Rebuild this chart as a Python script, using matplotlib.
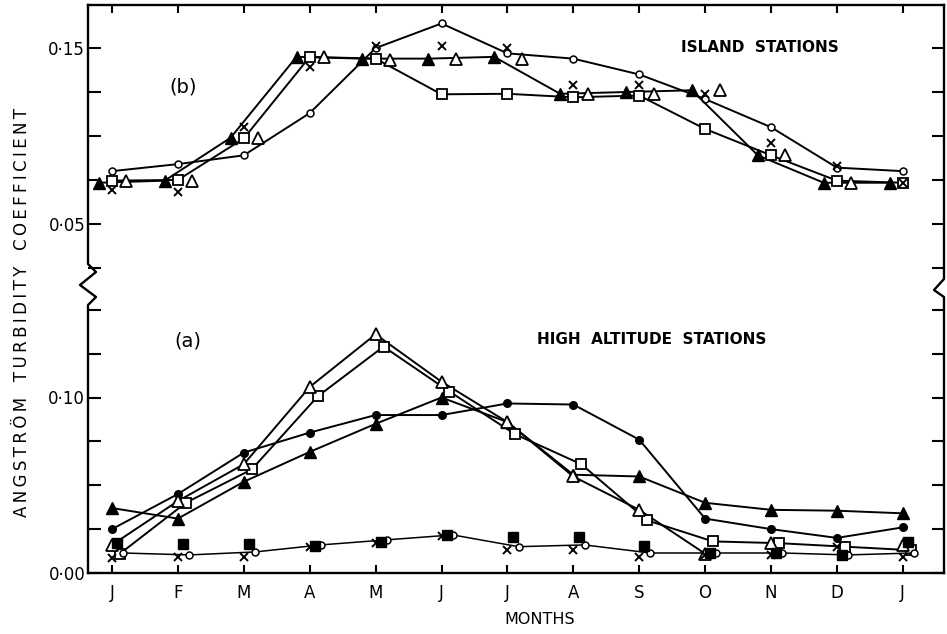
import numpy as np
import matplotlib
matplotlib.use("Agg")
import matplotlib.pyplot as plt
from matplotlib.lines import Line2D

months = ['J', 'F', 'M', 'A', 'M', 'J', 'J', 'A', 'S', 'O', 'N', 'D', 'J']
nan = np.nan

# (b) island stations
b_circle = [0.080, 0.084, 0.089, 0.113, 0.150, 0.164, 0.147, 0.144, 0.135, 0.121, 0.105, 0.082, 0.080]
b_tri_fill = [0.0734, 0.0746, 0.099, 0.145, 0.144, 0.144, 0.145, 0.124, 0.125, 0.126, 0.089, 0.0734, 0.0734]
b_square = [0.0746, 0.075, 0.0986, 0.145, 0.144, 0.1237, 0.124, 0.122, 0.123, 0.104, 0.089, 0.0746, 0.0734]
b_tri_open = [0.0746, 0.0746, 0.099, 0.145, 0.143, 0.144, 0.144, 0.124, 0.124, 0.126, 0.089, 0.0734, nan]
b_cross = [0.069, 0.068, 0.105, 0.139, 0.151, 0.151, 0.150, 0.129, 0.129, 0.124, 0.096, 0.083, 0.0734]

# (a) high altitude stations
a_dot = [0.025, 0.045, 0.0686, 0.080, 0.090, 0.090, 0.0966, 0.096, 0.076, 0.031, 0.025, 0.020, 0.026]
a_tri_fill = [0.037, 0.031, 0.052, 0.069, 0.085, 0.100, 0.086, 0.056, 0.055, 0.040, 0.036, 0.0355, 0.034]
a_tri_open = [0.016, 0.041, 0.062, 0.106, 0.136, 0.109, 0.086, 0.055, 0.036, 0.011, 0.017, nan, 0.016]
a_square = [0.011, 0.040, 0.059, 0.1006, 0.129, 0.1034, 0.079, 0.062, 0.030, 0.018, 0.017, 0.015, 0.013]
a_sq_fill = [0.017, 0.0166, 0.0166, 0.0154, 0.0177, 0.0217, 0.0206, 0.0206, 0.0154, 0.0114, 0.0114, 0.0103, 0.0177]
a_cross = [0.0086, 0.0091, 0.0091, 0.0150, 0.0172, 0.0210, 0.013, 0.013, 0.0091, 0.0103, 0.0103, 0.015, 0.0091]
a_circle = [0.0114, 0.0103, 0.012, 0.016, 0.0189, 0.0217, 0.015, 0.016, 0.0114, 0.0114, 0.0114, 0.0103, 0.0114]

x = np.arange(len(months))

W, H = 947, 634
L, R, T, B, BRK = 88, 944, 5, 573, 285
fig = plt.figure(figsize=(W / 100, H / 100), dpi=100)
ax_b = fig.add_axes([L / W, 1 - BRK / H, (R - L) / W, (BRK - T) / H])
ax_a = fig.add_axes([L / W, 1 - B / H, (R - L) / W, (B - BRK) / H], sharex=ax_b)

lw = 1.4
open_tri = dict(marker='^', ms=8.5, mfc='white', mec='black', mew=1.3)
fill_tri = dict(marker='^', ms=8.5, mfc='black', mec='black')
open_sq = dict(marker='s', ms=6.5, mfc='white', mec='black', mew=1.3)
fill_sq = dict(marker='s', ms=6.5, mfc='black', mec='black')
open_c = dict(marker='o', ms=5, mfc='white', mec='black', mew=1.1)
fill_c = dict(marker='o', ms=5.5, mfc='black', mec='black')
cross = dict(marker='x', ms=6, mec='black', mew=1.4)

# panel (b)
ax = ax_b
ax.plot(x, b_circle, color='black', lw=lw, zorder=2, **open_c)
ax.plot(x - 0.2, b_tri_fill, color='black', lw=lw, zorder=2, **fill_tri)
ax.plot(x, b_square, color='black', lw=lw, zorder=2, **open_sq)
ax.plot(x + 0.22, b_tri_open, ls='none', zorder=3, **open_tri)
ax.plot(x, b_cross, ls='none', zorder=3, **cross)

# panel (a)
ax = ax_a
ax.plot(x, a_dot, color='black', lw=lw, zorder=2, **fill_c)
ax.plot(x, a_tri_fill, color='black', lw=lw, zorder=2, **fill_tri)
ax.plot(x[:10], a_tri_open[:10], color='black', lw=lw, zorder=2)
ax.plot(x, a_tri_open, ls='none', zorder=3, **open_tri)
ax.plot(x + 0.12, a_square, color='black', lw=lw, zorder=2, **open_sq)
ax.plot(x + 0.17, a_circle, color='black', lw=1.1, zorder=2, **open_c)
ax.plot(x + 0.08, a_sq_fill, ls='none', zorder=3, **fill_sq)
ax.plot(x, a_cross, ls='none', zorder=3, **cross)

px_per = 1755.0
ax_b.set_ylim(0.05 - (BRK - 224) / px_per, 0.15 + (48 - T) / px_per)
ax_a.set_ylim(0, (B - BRK) / px_per)
ax_b.set_xlim((L - 112) / 65.9, (R - 112) / 65.9)

ax_b.set_yticks([0.025, 0.05, 0.075, 0.10, 0.125, 0.15])
ax_b.set_yticklabels(['', '0·05', '', '', '', '0·15'])
ax_a.set_yticks([0, 0.025, 0.05, 0.075, 0.10, 0.125, 0.15])
ax_a.set_yticklabels(['0·00', '', '', '', '0·10', '', ''])
ax_a.set_xticks(x)
ax_a.set_xticklabels(months)

for ax in (ax_a, ax_b):
    ax.tick_params(axis='y', direction='in', length=9, width=1.5, left=True, right=True,
                   labelsize=12, pad=2)
    ax.tick_params(axis='x', direction='in', length=6, width=1.5, top=True, bottom=True,
                   labelsize=12, pad=8)
    ax.spines['left'].set_visible(False)
    ax.spines['right'].set_visible(False)
    for s in ('top', 'bottom'):
        ax.spines[s].set_linewidth(1.7)
ax_b.spines['bottom'].set_visible(False)
ax_a.spines['top'].set_visible(False)
ax_b.tick_params(axis='x', labelbottom=False, bottom=False)
ax_a.tick_params(axis='x', top=False)

# broken side axes with zigzag
def px_line(pts):
    xs = [p[0] / W for p in pts]
    ys = [1 - p[1] / H for p in pts]
    fig.add_artist(Line2D(xs, ys, color='black', lw=1.7, transform=fig.transFigure))

px_line([(L, T), (L, 264), (96, 272), (80, 285), (96, 297), (L, 305), (L, B)])
px_line([(R, T), (R, 279), (934, 290), (R, 297), (R, B)])

ax_b.text(1.08, 0.128, '(b)', fontsize=14, ha='center', va='center')
ax_b.text(9.83, 0.1506, 'ISLAND  STATIONS', fontsize=11, fontweight='bold', ha='center', va='center')
ax_a.text(1.15, 0.132, '(a)', fontsize=14, ha='center', va='center')
ax_a.text(8.19, 0.133, 'HIGH  ALTITUDE  STATIONS', fontsize=11, fontweight='bold', ha='center', va='center')

fig.text(540 / W, 1 - 620 / H, 'MONTHS', fontsize=11.5, ha='center', va='center')
ylab = '\u2009'.join('ANGSTRÖM') + '   ' + '\u2009'.join('TURBIDITY') + '   ' + '\u2009'.join('COEFFICIENT')
fig.text(22 / W, 1 - 312 / H, ylab, fontsize=12, rotation=90, ha='center', va='center')

fig.savefig('out.png', dpi=100)
